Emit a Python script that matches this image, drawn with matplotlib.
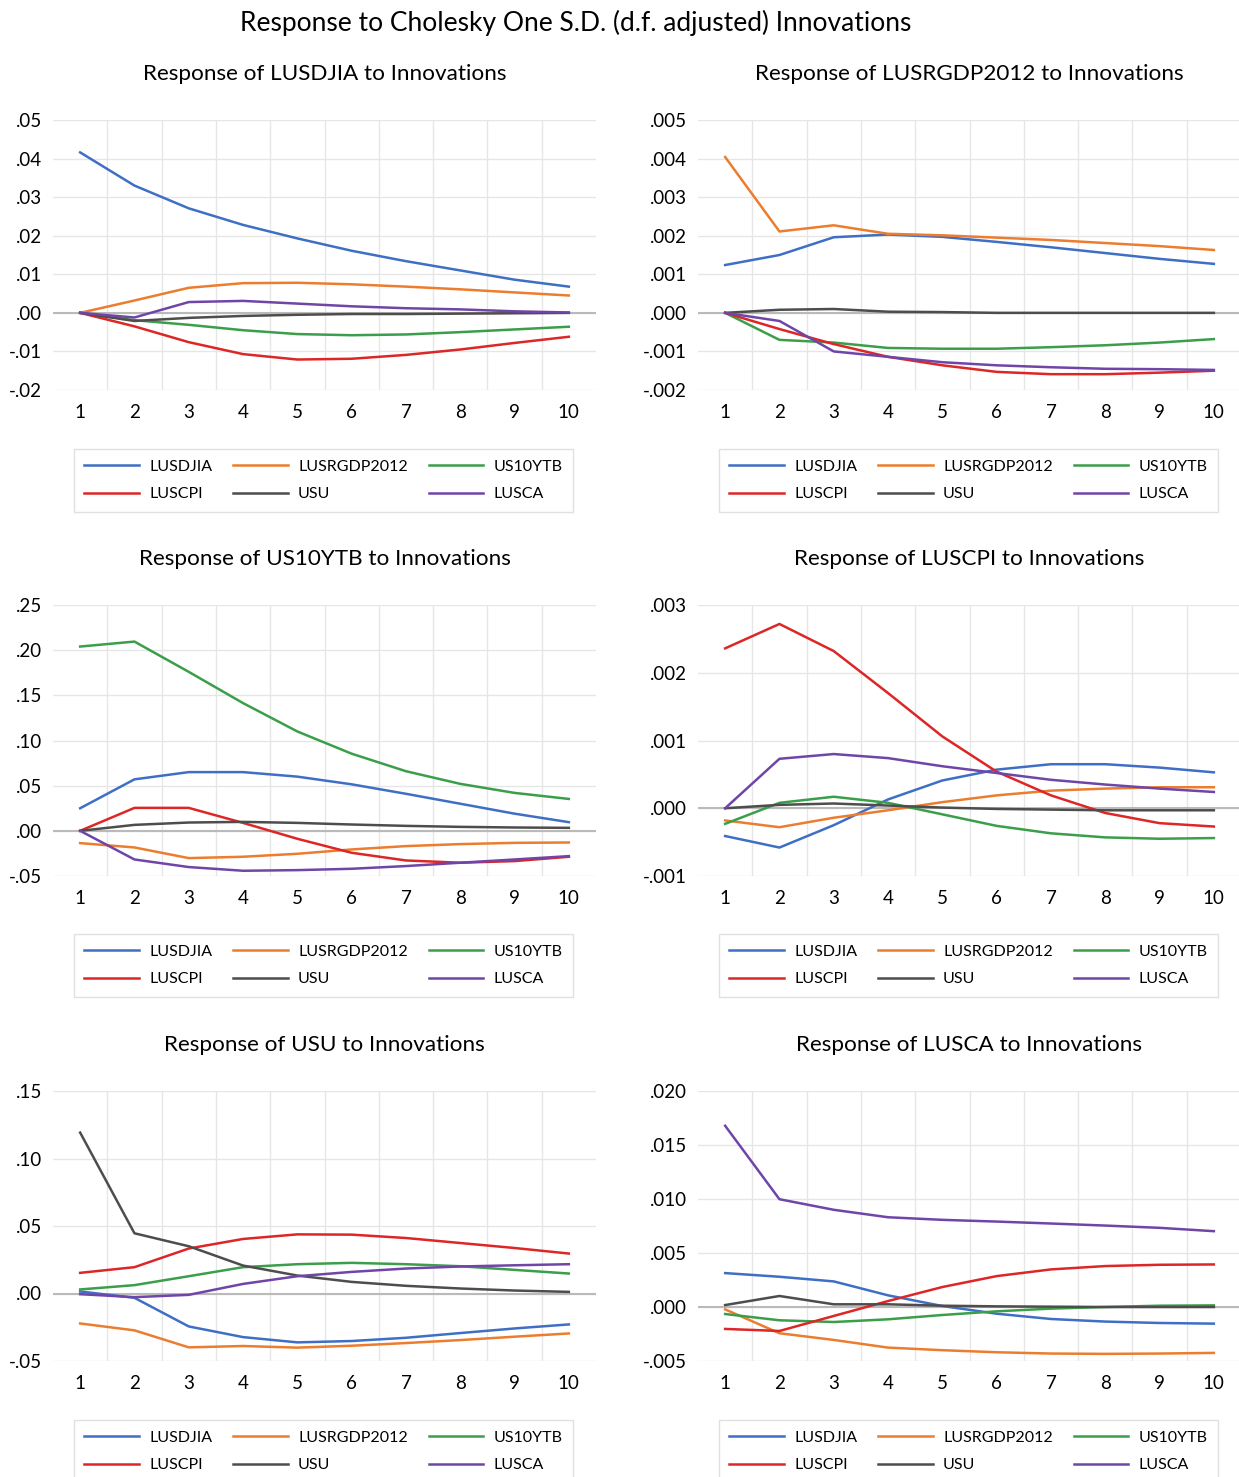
import matplotlib
matplotlib.use("Agg")
import matplotlib.pyplot as plt
import numpy as np

plt.rcParams['font.family'] = ['Lato', 'DejaVu Sans']

W, H = 1239, 1477

periods = list(range(1, 11))
series_names = ['LUSDJIA', 'LUSRGDP2012', 'US10YTB', 'LUSCPI', 'USU', 'LUSCA']
colors = {'LUSDJIA': '#3f6fc4', 'LUSRGDP2012': '#ec7d2e', 'US10YTB': '#3b9e4a',
          'LUSCPI': '#dd2626', 'USU': '#4d4d4d', 'LUSCA': '#7045a8'}

# responses, one dict per panel
resp_lusdjia = {
    'LUSDJIA': [0.0416, 0.0330, 0.0271, 0.0228, 0.0193, 0.0161, 0.0134, 0.0110, 0.0086, 0.0068],
    'LUSRGDP2012': [0.0, 0.0032, 0.0065, 0.0077, 0.0078, 0.0074, 0.0068, 0.0061, 0.0053, 0.0045],
    'US10YTB': [0.0, -0.0019, -0.0031, -0.0045, -0.0055, -0.0058, -0.0056, -0.0050, -0.0043, -0.0036],
    'LUSCPI': [0.0, -0.0035, -0.0076, -0.0107, -0.0121, -0.0119, -0.0109, -0.0095, -0.0078, -0.0062],
    'USU': [0.0, -0.0021, -0.0013, -0.0008, -0.0005, -0.0003, -0.0003, -0.0002, -0.0001, 0.0],
    'LUSCA': [0.0, -0.0012, 0.0028, 0.0031, 0.0024, 0.0017, 0.0012, 0.0009, 0.0004, 0.0001],
}
resp_lusrgdp = {
    'LUSDJIA': [0.00124, 0.00150, 0.00196, 0.00203, 0.00197, 0.00184, 0.00170, 0.00155, 0.00140, 0.00127],
    'LUSRGDP2012': [0.00404, 0.00211, 0.00227, 0.00205, 0.00201, 0.00195, 0.00189, 0.00181, 0.00173, 0.00163],
    'US10YTB': [0.0, -0.00070, -0.00077, -0.00091, -0.00093, -0.00093, -0.00089, -0.00084, -0.00077, -0.00068],
    'LUSCPI': [0.0, -0.00042, -0.00081, -0.00114, -0.00136, -0.00153, -0.00159, -0.00159, -0.00155, -0.00150],
    'USU': [0.0, 0.00008, 0.00010, 0.00003, 0.00002, 0.0, 0.0, 0.0, 0.0, 0.0],
    'LUSCA': [0.0, -0.00021, -0.00100, -0.00114, -0.00128, -0.00136, -0.00141, -0.00145, -0.00146, -0.00148],
}
resp_us10ytb = {
    'LUSDJIA': [0.025, 0.057, 0.065, 0.065, 0.060, 0.0515, 0.041, 0.030, 0.019, 0.0096],
    'LUSRGDP2012': [-0.0136, -0.0184, -0.0302, -0.0287, -0.0254, -0.0206, -0.0169, -0.0147, -0.0133, -0.0129],
    'US10YTB': [0.204, 0.2095, 0.176, 0.1414, 0.110, 0.0854, 0.066, 0.052, 0.042, 0.0353],
    'LUSCPI': [0.0, 0.0254, 0.0254, 0.0088, -0.0088, -0.0243, -0.0328, -0.0353, -0.0335, -0.0287],
    'USU': [0.0, 0.0066, 0.0092, 0.0099, 0.0088, 0.0070, 0.0055, 0.0044, 0.0037, 0.0033],
    'LUSCA': [0.0, -0.0317, -0.0401, -0.0442, -0.0435, -0.0420, -0.0390, -0.0353, -0.0317, -0.0280],
}
resp_luscpi = {
    'LUSDJIA': [-0.00041, -0.00058, -0.00025, 0.00013, 0.00041, 0.00057, 0.00065, 0.00065, 0.00060, 0.00053],
    'LUSRGDP2012': [-0.00018, -0.00028, -0.00014, -0.00003, 0.00009, 0.00019, 0.00026, 0.00029, 0.00031, 0.00031],
    'US10YTB': [-0.00023, 0.00008, 0.00017, 0.00008, -0.00009, -0.00026, -0.00037, -0.00043, -0.00045, -0.00044],
    'LUSCPI': [0.00236, 0.00272, 0.00232, 0.00170, 0.00106, 0.00054, 0.00019, -0.00007, -0.00022, -0.00027],
    'USU': [0.0, 0.00005, 0.00007, 0.00004, 0.00001, -0.00001, -0.00002, -0.00003, -0.00003, -0.00003],
    'LUSCA': [0.0, 0.00073, 0.00080, 0.00074, 0.00062, 0.00052, 0.00042, 0.00035, 0.00029, 0.00024],
}
resp_usu = {
    'LUSDJIA': [0.0015, -0.0032, -0.0244, -0.0323, -0.0362, -0.0352, -0.0328, -0.0293, -0.0259, -0.0229],
    'LUSRGDP2012': [-0.0222, -0.0273, -0.0399, -0.0389, -0.0401, -0.0387, -0.0367, -0.0345, -0.0320, -0.0296],
    'US10YTB': [0.0030, 0.0062, 0.0128, 0.0195, 0.0217, 0.0227, 0.0217, 0.0202, 0.0175, 0.0148],
    'LUSCPI': [0.0153, 0.0195, 0.0333, 0.0404, 0.0438, 0.0436, 0.0411, 0.0374, 0.0337, 0.0296],
    'USU': [0.1192, 0.0446, 0.0350, 0.0207, 0.0133, 0.0086, 0.0057, 0.0037, 0.0022, 0.0012],
    'LUSCA': [-0.0005, -0.0027, -0.0010, 0.0071, 0.0128, 0.0160, 0.0185, 0.0200, 0.0209, 0.0217],
}
resp_lusca = {
    'LUSDJIA': [0.00314, 0.00280, 0.00237, 0.00108, 0.00009, -0.00062, -0.00111, -0.00135, -0.00148, -0.00154],
    'LUSRGDP2012': [-0.00022, -0.00243, -0.00305, -0.00376, -0.00400, -0.00419, -0.00431, -0.00434, -0.00431, -0.00425],
    'US10YTB': [-0.00065, -0.00123, -0.00139, -0.00114, -0.00074, -0.00040, -0.00015, 0.0, 0.00012, 0.00015],
    'LUSCPI': [-0.00203, -0.00222, -0.00083, 0.00055, 0.00185, 0.00286, 0.00348, 0.00379, 0.00391, 0.00394],
    'USU': [0.00018, 0.00102, 0.00025, 0.00025, 0.00012, 0.00006, 0.00003, 0.0, 0.0, 0.0],
    'LUSCA': [0.01678, 0.00998, 0.00900, 0.00831, 0.00807, 0.00791, 0.00773, 0.00754, 0.00733, 0.00702],
}

panel_titles = ['Response of LUSDJIA to Innovations', 'Response of LUSRGDP2012 to Innovations',
                'Response of US10YTB to Innovations', 'Response of LUSCPI to Innovations',
                'Response of USU to Innovations', 'Response of LUSCA to Innovations']
panel_data = [resp_lusdjia, resp_lusrgdp, resp_us10ytb, resp_luscpi, resp_usu, resp_lusca]
panel_yticks = [np.arange(-0.02, 0.0501, 0.01), np.arange(-0.002, 0.00501, 0.001),
                np.arange(-0.05, 0.2501, 0.05), np.arange(-0.001, 0.00301, 0.001),
                np.arange(-0.05, 0.1501, 0.05), np.arange(-0.005, 0.02001, 0.005)]
panel_decimals = [2, 3, 2, 3, 2, 3]

# pixel boxes (left, top, right, bottom) of the plot areas
col_x = [(53, 596), (698, 1241)]
row_y = [(120, 390), (605, 876), (1091, 1361)]
legend_x = [(74, 573), (719, 1218)]
legend_top = [449, 934, 1420]


def fmt(v, d):
    s = f"{v:.{d}f}"
    if abs(v) < 1e-12:
        s = f"{0:.{d}f}"
    return s.replace('0.', '.', 1)


fig = plt.figure(figsize=(W / 100, H / 100), dpi=100)
fig.text(576 / W, 1 - 23 / H, 'Response to Cholesky One S.D. (d.f. adjusted) Innovations',
         ha='center', va='center', fontsize=19)

for i in range(6):
    r, c = divmod(i, 2)
    x0, x1 = col_x[c]
    y0, y1 = row_y[r]
    ax = fig.add_axes([x0 / W, 1 - y1 / H, (x1 - x0) / W, (y1 - y0) / H])
    ticks = panel_yticks[i]
    ax.set_ylim(ticks[0], ticks[-1])
    ax.set_xlim(0.5, 10.5)
    for t in ticks:
        ax.axhline(t, color='#e6e6e6', lw=1, zorder=0)
    for xv in np.arange(1.5, 10, 1):
        ax.axvline(xv, color='#e6e6e6', lw=1, zorder=0)
    ax.axhline(0, color='#bababa', lw=1.5, zorder=1)

    data = panel_data[i]
    handles = {}
    for name in series_names:
        h, = ax.plot(periods, data[name], color=colors[name], lw=1.8, zorder=3)
        handles[name] = h

    ax.set_yticks(ticks)
    ax.set_yticklabels([fmt(t, panel_decimals[i]) for t in ticks])
    ax.set_xticks(periods)
    ax.tick_params(length=0, labelsize=13.5, colors='black')
    ax.tick_params(axis='x', pad=10)
    ax.tick_params(axis='y', pad=8)
    for s in ax.spines.values():
        s.set_visible(False)

    fig.text((x0 + x1) / 2 / W, 1 - (y0 - 46) / H, panel_titles[i],
             ha='center', va='center', fontsize=16.2)

    lx0, lx1 = legend_x[c]
    ly = legend_top[r]
    order = ['LUSDJIA', 'LUSCPI', 'LUSRGDP2012', 'USU', 'US10YTB', 'LUSCA']
    leg = ax.legend([handles[n] for n in order], order, ncol=3, mode='expand',
                    loc='upper left', bbox_to_anchor=(lx0 / W, 1 - ly / H, (lx1 - lx0) / W, 0),
                    bbox_transform=fig.transFigure, borderaxespad=0, fontsize=11.5,
                    handlelength=3.4, handletextpad=0.65, columnspacing=1.2,
                    labelspacing=0.85, borderpad=0.65, fancybox=False, frameon=True)
    leg.get_frame().set_edgecolor('#d9d9d9')
    leg.get_frame().set_linewidth(1)

fig.savefig('out.png', dpi=100)
